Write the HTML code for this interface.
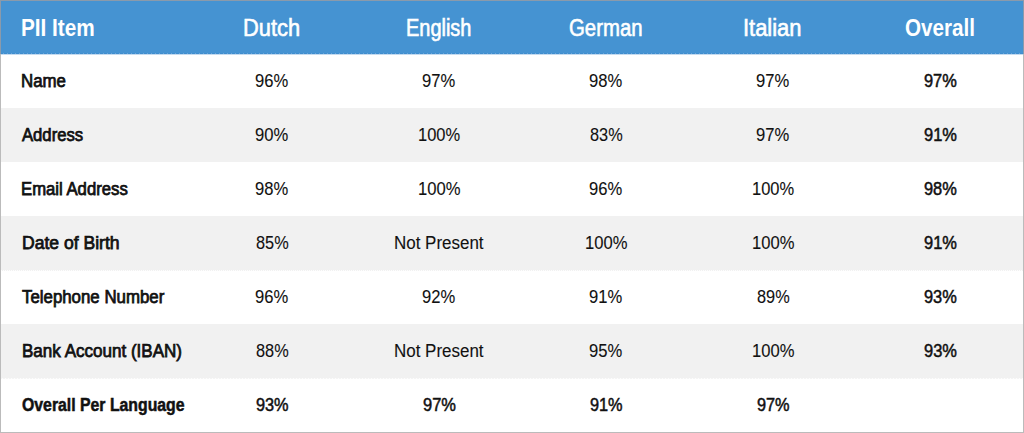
<!DOCTYPE html>
<html><head><meta charset="utf-8"><style>
html,body{margin:0;padding:0;width:1024px;height:433px;overflow:hidden;background:#fff}
.w{position:relative;width:1024px;height:433px;font-family:"Liberation Sans",sans-serif}
.b{position:absolute}
.c{position:absolute;white-space:nowrap;line-height:0;height:0;width:0}
.c span{position:absolute;left:0;top:0;display:inline-block;line-height:0;transform-origin:0 0}
.hd{color:#fff;font-size:23px}
.bd{color:#111;font-size:17.5px}
.hb{font-weight:bold}
.hr{-webkit-text-stroke:0.6px #fff}
.lb{font-weight:bold;-webkit-text-stroke:0.5px #111}
.lr{-webkit-text-stroke:0.75px #111}
.vb{-webkit-text-stroke:0.5px #111}
.vr{-webkit-text-stroke:0.1px #111}
</style></head><body><div class="w">

<div class="b" style="left:0;top:0;width:1024px;height:54px;background:#4593d2"></div>
<div class="b" style="left:0;top:108px;width:1024px;height:54px;background:#f1f1f1"></div>
<div class="b" style="left:0;top:216px;width:1024px;height:54px;background:#f1f1f1"></div>
<div class="b" style="left:0;top:324px;width:1024px;height:54px;background:#f1f1f1"></div>
<div class="b" style="left:0;top:53px;width:1024px;height:1px;background:repeating-linear-gradient(90deg,#3f8ecf 0 3px,#6ea7d9 3px 4px)"></div>
<div class="b" style="left:0;top:54px;width:1024px;height:1px;background:#c4dbf0"></div>
<div class="b" style="left:0;top:270px;width:1024px;height:1px;background:repeating-linear-gradient(90deg,#f1f1f1 0 1px,#fdfdfd 1px 2px)"></div>
<div class="b" style="left:0;top:378px;width:1024px;height:1px;background:repeating-linear-gradient(90deg,#f4f4f4 0 2px,#fdfdfd 2px 3px)"></div>
<div class="b" style="left:0;top:0;width:1024px;height:1px;background:#8a9aab"></div>
<div class="b" style="left:0;top:432px;width:1024px;height:1px;background:#bbbbbb"></div>
<div class="b" style="left:0;top:0;width:1px;height:54px;background:#8a9aab"></div>
<div class="b" style="left:1023px;top:0;width:1px;height:54px;background:#8a9aab"></div>
<div class="b" style="left:0;top:54px;width:1px;height:379px;background:#bbbbbb"></div>
<div class="b" style="left:1023px;top:54px;width:1px;height:379px;background:#bbbbbb"></div>
<div class="c hd hb" style="left:20.50px;top:28.00px"><span class="t" id="c0_0" style="transform:scale(0.9012,1.0000);">PII Item</span></div>
<div class="c hd hr" style="left:242.74px;top:28.00px"><span class="t" id="c0_1" style="transform:scale(0.9506,1.0000);">Dutch</span></div>
<div class="c hd hr" style="left:405.51px;top:28.00px"><span class="t" id="c0_2" style="transform:scale(0.8673,1.0000);">English</span></div>
<div class="c hd hr" style="left:568.58px;top:28.00px"><span class="t" id="c0_3" style="transform:scale(0.8850,1.0000);">German</span></div>
<div class="c hd hr" style="left:742.54px;top:28.00px"><span class="t" id="c0_4" style="transform:scale(0.9530,1.0000);">Italian</span></div>
<div class="c hd hb" style="left:904.56px;top:28.00px"><span class="t" id="c0_5" style="transform:scale(0.8979,1.0000);">Overall</span></div>
<div class="c bd lr" style="left:20.97px;top:81.00px"><span class="t" id="c1_0" style="transform:scale(0.9629,1.0000);">Name</span></div>
<div class="c bd vr" style="left:254.57px;top:81.00px"><span class="t" id="c1_1" style="transform:scale(0.9477,1.0000);">96%</span></div>
<div class="c bd vr" style="left:421.71px;top:81.00px"><span class="t" id="c1_2" style="transform:scale(0.9476,1.0000);">97%</span></div>
<div class="c bd vr" style="left:588.63px;top:81.00px"><span class="t" id="c1_3" style="transform:scale(0.9477,1.0000);">98%</span></div>
<div class="c bd vr" style="left:755.82px;top:81.00px"><span class="t" id="c1_4" style="transform:scale(0.9477,1.0000);">97%</span></div>
<div class="c bd vb" style="left:923.57px;top:81.00px"><span class="t" id="c1_5" style="transform:scale(0.9364,1.0000);">97%</span></div>
<div class="c bd lr" style="left:21.54px;top:135.00px"><span class="t" id="c2_0" style="transform:scale(0.9517,1.0000);">Address</span></div>
<div class="c bd vr" style="left:255.08px;top:135.00px"><span class="t" id="c2_1" style="transform:scale(0.9482,1.0000);">90%</span></div>
<div class="c bd vr" style="left:417.54px;top:135.00px"><span class="t" id="c2_2" style="transform:scale(0.9413,1.0000);">100%</span></div>
<div class="c bd vr" style="left:589.67px;top:135.00px"><span class="t" id="c2_3" style="transform:scale(0.9313,1.0000);">83%</span></div>
<div class="c bd vr" style="left:755.82px;top:135.00px"><span class="t" id="c2_4" style="transform:scale(0.9482,1.0000);">97%</span></div>
<div class="c bd vb" style="left:923.56px;top:135.00px"><span class="t" id="c2_5" style="transform:scale(0.9398,1.0000);">91%</span></div>
<div class="c bd lr" style="left:20.60px;top:189.00px"><span class="t" id="c3_0" style="transform:scale(0.9542,1.0000);">Email Address</span></div>
<div class="c bd vr" style="left:254.57px;top:189.00px"><span class="t" id="c3_1" style="transform:scale(0.9477,1.0000);">98%</span></div>
<div class="c bd vr" style="left:417.61px;top:189.00px"><span class="t" id="c3_2" style="transform:scale(0.9493,1.0000);">100%</span></div>
<div class="c bd vr" style="left:588.63px;top:189.00px"><span class="t" id="c3_3" style="transform:scale(0.9477,1.0000);">96%</span></div>
<div class="c bd vr" style="left:751.70px;top:189.00px"><span class="t" id="c3_4" style="transform:scale(0.9417,1.0000);">100%</span></div>
<div class="c bd vb" style="left:923.57px;top:189.00px"><span class="t" id="c3_5" style="transform:scale(0.9364,1.0000);">98%</span></div>
<div class="c bd lr" style="left:21.59px;top:243.00px"><span class="t" id="c4_0" style="transform:scale(1.0035,1.0000);">Date of Birth</span></div>
<div class="c bd vr" style="left:255.62px;top:243.00px"><span class="t" id="c4_1" style="transform:scale(0.9313,1.0000);">85%</span></div>
<div class="c bd vr" style="left:393.53px;top:243.00px"><span class="t" id="c4_2" style="transform:scale(0.9690,1.0000);">Not Present</span></div>
<div class="c bd vr" style="left:584.73px;top:243.00px"><span class="t" id="c4_3" style="transform:scale(0.9477,1.0000);">100%</span></div>
<div class="c bd vr" style="left:751.62px;top:243.00px"><span class="t" id="c4_4" style="transform:scale(0.9477,1.0000);">100%</span></div>
<div class="c bd vb" style="left:923.56px;top:243.00px"><span class="t" id="c4_5" style="transform:scale(0.9398,1.0000);">91%</span></div>
<div class="c bd lr" style="left:22.20px;top:297.00px"><span class="t" id="c5_0" style="transform:scale(0.9622,1.0000);">Telephone Number</span></div>
<div class="c bd vr" style="left:254.57px;top:297.00px"><span class="t" id="c5_1" style="transform:scale(0.9477,1.0000);">96%</span></div>
<div class="c bd vr" style="left:421.71px;top:297.00px"><span class="t" id="c5_2" style="transform:scale(0.9476,1.0000);">92%</span></div>
<div class="c bd vr" style="left:588.63px;top:297.00px"><span class="t" id="c5_3" style="transform:scale(0.9477,1.0000);">91%</span></div>
<div class="c bd vr" style="left:756.54px;top:297.00px"><span class="t" id="c5_4" style="transform:scale(0.9314,1.0000);">89%</span></div>
<div class="c bd vb" style="left:923.57px;top:297.00px"><span class="t" id="c5_5" style="transform:scale(0.9364,1.0000);">93%</span></div>
<div class="c bd lr" style="left:21.65px;top:351.00px"><span class="t" id="c6_0" style="transform:scale(0.9736,1.0000);">Bank Account (IBAN)</span></div>
<div class="c bd vr" style="left:255.62px;top:351.00px"><span class="t" id="c6_1" style="transform:scale(0.9313,1.0000);">88%</span></div>
<div class="c bd vr" style="left:393.53px;top:351.00px"><span class="t" id="c6_2" style="transform:scale(0.9690,1.0000);">Not Present</span></div>
<div class="c bd vr" style="left:588.63px;top:351.00px"><span class="t" id="c6_3" style="transform:scale(0.9482,1.0000);">95%</span></div>
<div class="c bd vr" style="left:751.62px;top:351.00px"><span class="t" id="c6_4" style="transform:scale(0.9477,1.0000);">100%</span></div>
<div class="c bd vb" style="left:923.56px;top:351.00px"><span class="t" id="c6_5" style="transform:scale(0.9398,1.0000);">93%</span></div>
<div class="c bd lb" style="left:21.55px;top:405.00px"><span class="t" id="c7_0" style="transform:scale(0.9035,1.0000);">Overall Per Language</span></div>
<div class="c bd vb" style="left:255.66px;top:405.00px"><span class="t" id="c7_1" style="transform:scale(0.9309,1.0000);">93%</span></div>
<div class="c bd vb" style="left:422.66px;top:405.00px"><span class="t" id="c7_2" style="transform:scale(0.9400,1.0000);">97%</span></div>
<div class="c bd vb" style="left:589.66px;top:405.00px"><span class="t" id="c7_3" style="transform:scale(0.9309,1.0000);">91%</span></div>
<div class="c bd vb" style="left:756.58px;top:405.00px"><span class="t" id="c7_4" style="transform:scale(0.9309,1.0000);">97%</span></div>

</div></body></html>
